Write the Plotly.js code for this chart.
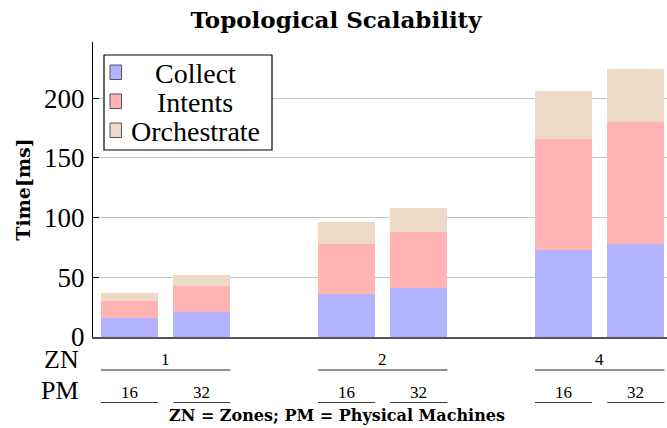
<!DOCTYPE html>
<html>
<head>
<meta charset="utf-8">
<script src="https://cdn.plot.ly/plotly-3.0.1.min.js"></script>
<style>html,body{margin:0;padding:0;background:#fff;}#chart{width:667px;height:428px;}</style>
</head>
<body>
<div id="chart"></div>
<script>
// ---- data ----
const zones = ['1', '2', '4'];
const machines = ['16', '32'];
const seriesNames = ['Collect', 'Intents', 'Orchestrate'];
const collect = [16, 21, 36, 41, 73, 77.5];
const intents = [14.5, 21.5, 42, 47, 93, 102.5];
const orchestrate = [6, 9.5, 18, 20, 40, 44.5];
const seriesColors = ['#b3b3ff', '#ffb3b3', '#ecd9c6'];
const titleText = 'Topological Scalability';
const yTitle = 'Time[ms]';
const footer = 'ZN = Zones; PM = Physical Machines';

// ---- layout helpers ----
const FONT = '"Liberation Serif", serif';
const BFONT = '"DejaVu Serif", serif';
const L = 93, R = 0, T = 42, B = 91, W = 667, H = 428;
const pw = W - L - R, ph = H - T - B;
const px = p => (p - L) / pw;          // pixel x -> paper x
const py = p => (H - B - p) / ph;      // pixel y -> paper y
const barW = 0.79;

const xs = [];
zones.forEach((z, gi) => machines.forEach((m, mi) => xs.push(gi * 3 + mi)));

const values = [collect, intents, orchestrate];
const traces = values.map((v, i) => ({
  type: 'bar', x: xs, y: v, name: seriesNames[i], width: barW,
  marker: {color: seriesColors[i], line: {width: 0}},
  showlegend: false, hoverinfo: 'skip'
}));

const shapes = [];
const annotations = [];

// group (ZN) and machine (PM) labels with underlines
zones.forEach((z, gi) => {
  const x0 = gi * 3 - barW / 2, x1 = gi * 3 + 1 + barW / 2;
  annotations.push({xref: 'x', yref: 'paper', x: gi * 3 + 0.5, y: py(359), text: z,
    showarrow: false, font: {family: FONT, size: 17, color: '#000'}, yanchor: 'middle'});
  shapes.push({type: 'line', xref: 'x', yref: 'paper', x0: x0, x1: x1, y0: py(370), y1: py(370),
    line: {color: '#6e6e6e', width: 1.5}});
  machines.forEach((m, mi) => {
    const c = gi * 3 + mi;
    annotations.push({xref: 'x', yref: 'paper', x: c, y: py(392), text: m,
      showarrow: false, font: {family: FONT, size: 17, color: '#000'}, yanchor: 'middle'});
    shapes.push({type: 'line', xref: 'x', yref: 'paper', x0: c - barW / 2, x1: c + barW / 2,
      y0: py(402.5), y1: py(402.5), line: {color: '#3c3c3c', width: 1.2}});
  });
});
annotations.push({xref: 'paper', yref: 'paper', x: px(81), y: py(359), text: 'ZN', showarrow: false,
  xanchor: 'right', yanchor: 'middle', font: {family: FONT, size: 26, color: '#000'}});
annotations.push({xref: 'paper', yref: 'paper', x: px(81), y: py(390), text: 'PM', showarrow: false,
  xanchor: 'right', yanchor: 'middle', font: {family: FONT, size: 26, color: '#000'}});
annotations.push({xref: 'paper', yref: 'paper', x: px(337), y: py(415), text: footer,
  showarrow: false, xanchor: 'center', yanchor: 'middle',
  font: {family: BFONT, size: 16, weight: 'bold', color: '#000'}});

// custom legend
shapes.push({type: 'rect', xref: 'paper', yref: 'paper', x0: px(104), x1: px(272), y0: py(55), y1: py(150),
  line: {color: '#000', width: 1.2}, fillcolor: '#fff'});
const rowY = [73, 102, 131];
seriesNames.forEach((n, i) => {
  shapes.push({type: 'rect', xref: 'paper', yref: 'paper', x0: px(110), x1: px(121.5),
    y0: py(rowY[i] - 8), y1: py(rowY[i] + 6.5), fillcolor: seriesColors[i],
    line: {color: '#555', width: 1}});
  annotations.push({xref: 'paper', yref: 'paper', x: px(195), y: py(rowY[i]), text: n,
    showarrow: false, xanchor: 'center', yanchor: 'middle',
    font: {family: FONT, size: 28, color: '#000'}});
});

const layout = {
  width: W, height: H,
  margin: {l: L, r: R, t: T, b: B},
  paper_bgcolor: '#fff', plot_bgcolor: '#fff',
  barmode: 'stack',
  font: {family: FONT, color: '#000'},
  title: {text: titleText, x: 336 / W, xref: 'container', xanchor: 'center',
    y: 1 - 20 / H, yref: 'container', yanchor: 'middle',
    font: {family: BFONT, size: 23, weight: 'bold', color: '#000'}},
  xaxis: {range: [-0.505, 7.43], showticklabels: false, ticks: '', showgrid: false, zeroline: false,
    showline: true, linecolor: '#555', linewidth: 1.5, fixedrange: true},
  yaxis: {range: [0, 247], tickvals: [0, 50, 100, 150, 200], ticks: 'inside', ticklen: 6,
    tickcolor: '#000', tickwidth: 1, showline: true, linecolor: '#000', linewidth: 1.2,
    showgrid: true, gridcolor: '#c4c4c4', gridwidth: 1, zeroline: false,
    tickfont: {family: FONT, size: 27, color: '#000'}, ticklabelstandoff: 2,
    title: {text: yTitle, font: {family: BFONT, size: 19, weight: 'bold', color: '#000'}, standoff: 8},
    automargin: false, fixedrange: true},
  shapes: shapes,
  annotations: annotations
};

Plotly.newPlot('chart', traces, layout, {displayModeBar: false, staticPlot: true});
</script>
</body>
</html>
